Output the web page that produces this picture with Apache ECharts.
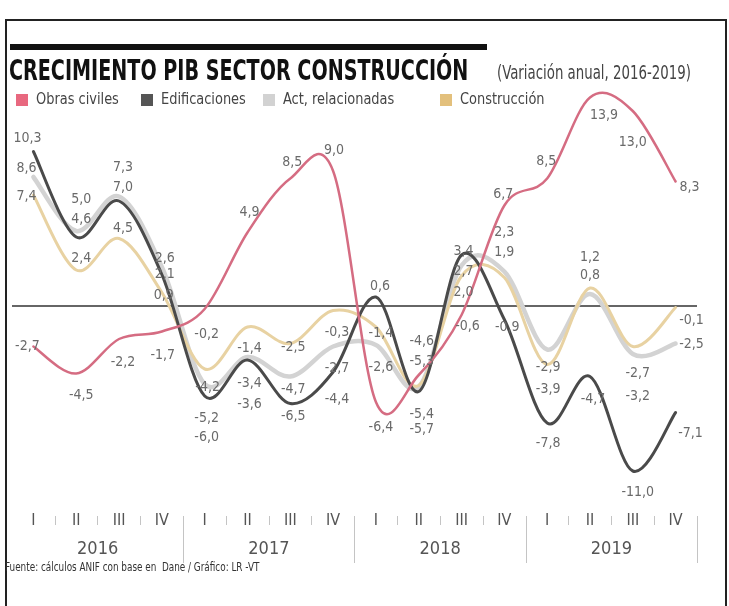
<!DOCTYPE html>
<html><head><meta charset="utf-8">
<script src="https://cdn.jsdelivr.net/npm/echarts@6/dist/echarts.min.js"></script>
<style>html,body{margin:0;padding:0;background:#fff}#c{width:729px;height:606px}</style>
</head><body><div id="c"></div>
<script>
const quarters = ['I','II','III','IV','I','II','III','IV','I','II','III','IV','I','II','III','IV'];
const years = ['2016','2017','2018','2019'];
const obrasCiviles    = [-2.7, -4.5, -2.2, -1.7, -0.2, 4.9, 8.5, 9.0, -6.4, -4.6, -0.6, 6.7, 8.5, 13.9, 13.0, 8.3];
const edificaciones   = [10.3, 4.6, 7.0, 2.1, -6.0, -3.6, -6.5, -4.4, 0.6, -5.7, 3.4, -0.9, -7.8, -4.7, -11.0, -7.1];
const actRelacionadas = [8.6, 5.0, 7.3, 2.6, -5.2, -3.4, -4.7, -2.7, -2.6, -5.4, 2.7, 2.3, -2.9, 0.8, -3.2, -2.5];
const construccion    = [7.4, 2.4, 4.5, 0.9, -4.2, -1.4, -2.5, -0.3, -1.4, -5.3, 2.0, 1.9, -3.9, 1.2, -2.7, -0.1];
const seriesNames = ['Obras civiles','Edificaciones','Act, relacionadas','Construcción'];

// label placement (style only, kept separate from data)
const offObras = [[-6,0],[5,22],[4,23],[1,24],[2,25],[2,-20],[2,-16],[1,-21],[5,25],[3,-34],[6,11],[-1,-11],[-1,-17],[14,18],[0,31],[14,6]];
const offEdif  = [[-6,-13],[5,-18],[4,-14],[3,0],[2,41],[2,44],[3,13],[4,27],[4,-11],[3,38],[2,-4],[3,8],[1,20],[3,23],[5,21],[15,21]];
const offAct   = [[-7,-9],[5,-32],[4,-29],[3,-9],[2,34],[2,26],[3,13],[4,22],[5,22],[3,27],[2,6],[0,-39],[1,18],[0,-19],[5,42],[16,1]];
const offCons  = [[-7,1],[5,-12],[4,-10],[2,3],[3,18],[2,21],[3,4],[4,22],[5,6],[3,-24],[2,16],[0,-25],[1,25],[0,-31],[5,27],[16,13]];

const NARROW = '"Liberation Sans Narrow","DejaVu Sans Condensed","Roboto",sans-serif';
const fmt = v => v.toFixed(1).replace('.', ',');

// smooth curve (Catmull-Rom through the data points, positioned by the chart's own axes)
function curveSeries(name, vals, color, width, z){
  return {
    name, type:'custom', coordinateSystem:'cartesian2d', xAxisIndex:0, yAxisIndex:0, z,
    data: vals.map((v,k)=>[k, v]), encode:{x:0, y:1}, clip:false, silent:true,
    renderItem: (params, api) => {
      if (params.dataIndex !== 0) return {type:'group', children:[]};
      const pts = vals.map((v,k)=>api.coord([k, v]));
      const n = pts.length;
      let d = 'M' + pts[0][0] + ' ' + pts[0][1];
      for (let k = 0; k < n-1; k++){
        const p0 = pts[Math.max(k-1,0)], p1 = pts[k], p2 = pts[k+1], p3 = pts[Math.min(k+2,n-1)];
        const c1x = p1[0] + (p2[0]-p0[0])/6, c1y = p1[1] + (p2[1]-p0[1])/6;
        const c2x = p2[0] - (p3[0]-p1[0])/6, c2y = p2[1] - (p3[1]-p1[1])/6;
        d += ' C' + c1x + ' ' + c1y + ' ' + c2x + ' ' + c2y + ' ' + p2[0] + ' ' + p2[1];
      }
      return {type:'path', shape:{pathData:d},
        style:{fill:'none', stroke:color, lineWidth:width, lineJoin:'round', lineCap:'round'}};
    }
  };
}
// value labels
function labelSeries(name, vals, offs){
  return {
    name, type:'line', data: vals, xAxisIndex:0, yAxisIndex:0, z:10,
    clip:false, symbol:'circle', symbolSize:1, showSymbol:true,
    itemStyle:{color:'rgba(0,0,0,0)', borderWidth:0},
    lineStyle:{opacity:0, width:0},
    labelLayout: p => ({dx: offs[p.dataIndex][0], dy: offs[p.dataIndex][1], hideOverlap:false}),
    label:{show:true, position:'inside', formatter:p=>fmt(p.value), color:'#6a6a6a',
      fontFamily:NARROW, fontSize:14, align:'center', verticalAlign:'middle'},
    emphasis:{disabled:true}, silent:true
  };
}

const chart = echarts.init(document.getElementById('c'), null, {renderer:'canvas'});
const legendItems = [
  {x:16, color:'#e8687f', text:seriesNames[0]},
  {x:141, color:'#555555', text:seriesNames[1]},
  {x:263, color:'#d2d2d2', text:seriesNames[2]},
  {x:440, color:'#e3c07c', text:seriesNames[3]}
];
const graphics = [
  {type:'rect', shape:{x:6,y:20,width:720,height:600}, style:{fill:'none', stroke:'#222', lineWidth:2}},
  {type:'rect', shape:{x:10,y:44,width:477,height:6}, style:{fill:'#111'}},
  {type:'text', x:9, y:73, scaleX:0.76, style:{text:'CRECIMIENTO PIB SECTOR CONSTRUCCIÓN', font:'bold 28px '+NARROW, fill:'#111', verticalAlign:'middle'}},
  {type:'text', x:497, y:74, scaleX:0.78, style:{text:'(Variación anual, 2016-2019)', font:'19px '+NARROW, fill:'#444', verticalAlign:'middle'}},
  {type:'text', x:5, y:568, scaleX:0.82, style:{text:'Fuente: cálculos ANIF con base en  Dane / Gráfico: LR -VT', font:'12px '+NARROW, fill:'#333', verticalAlign:'middle'}}
];
legendItems.forEach(it=>{
  graphics.push({type:'rect', shape:{x:it.x, y:94, width:12, height:12}, style:{fill:it.color}});
  graphics.push({type:'text', x:it.x+20, y:100, scaleX:0.9, style:{text:it.text, font:'16px '+NARROW, fill:'#444', verticalAlign:'middle'}});
});

chart.setOption({
  animation:false,
  backgroundColor:'#fff',
  grid:{left:12, right:32, top:96, height:420},
  xAxis:[
    {type:'category', data:quarters, boundaryGap:true, position:'bottom',
      axisLine:{show:false, onZero:false}, axisTick:{show:true, length:9, interval:(i)=>i!==0, lineStyle:{color:'#c4c4c4', width:1}},
      axisLabel:{interval:0, margin:5, verticalAlign:'middle', fontFamily:NARROW, fontSize:16, color:'#555'}},
    {type:'category', data:years, boundaryGap:true, position:'bottom',
      axisLine:{show:false, onZero:false}, axisTick:{show:true, length:47, interval:(i)=>i!==0, lineStyle:{color:'#c4c4c4', width:1}},
      axisLabel:{interval:0, margin:33, verticalAlign:'middle', fontFamily:NARROW, fontSize:18, color:'#555'}}
  ],
  yAxis:{type:'value', min:-14, max:14, interval:14,
    axisLine:{show:false}, axisTick:{show:false}, axisLabel:{show:false},
    splitLine:{show:true, lineStyle:{color:['rgba(0,0,0,0)','#333','rgba(0,0,0,0)'], width:1.5}}},
  graphic: graphics,
  series:[
    curveSeries(seriesNames[2], actRelacionadas, '#d3d3d3', 4.5, 2),
    curveSeries(seriesNames[3], construccion, '#e8d2a2', 3, 3),
    curveSeries(seriesNames[1], edificaciones, '#4a4a4a', 3, 4),
    curveSeries(seriesNames[0], obrasCiviles, '#d56c82', 2.5, 5),
    labelSeries(seriesNames[2], actRelacionadas, offAct),
    labelSeries(seriesNames[3], construccion, offCons),
    labelSeries(seriesNames[1], edificaciones, offEdif),
    labelSeries(seriesNames[0], obrasCiviles, offObras)
  ]
});
</script></body></html>
